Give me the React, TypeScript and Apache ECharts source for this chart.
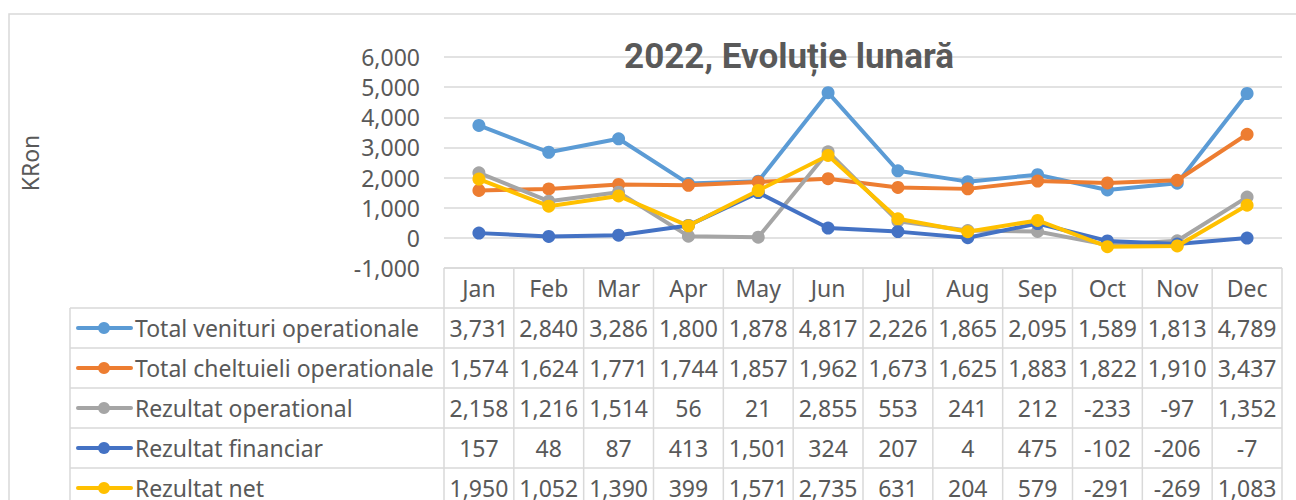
import React, { useEffect, useRef } from "react";
import * as echarts from "echarts";

const months = ["Jan", "Feb", "Mar", "Apr", "May", "Jun", "Jul", "Aug", "Sep", "Oct", "Nov", "Dec"];
const seriesNames = [
  "Total venituri operationale",
  "Total cheltuieli operationale",
  "Rezultat operational",
  "Rezultat financiar",
  "Rezultat net",
];
const venituri = [3731, 2840, 3286, 1800, 1878, 4817, 2226, 1865, 2095, 1589, 1813, 4789];
const cheltuieli = [1574, 1624, 1771, 1744, 1857, 1962, 1673, 1625, 1883, 1822, 1910, 3437];
const rezOperational = [2158, 1216, 1514, 56, 21, 2855, 553, 241, 212, -233, -97, 1352];
const rezFinanciar = [157, 48, 87, 413, 1501, 324, 207, 4, 475, -102, -206, -7];
const rezNet = [1950, 1052, 1390, 399, 1571, 2735, 631, 204, 579, -291, -269, 1083];
const yTicks = { min: -1000, max: 6000, interval: 1000 };

const seriesData = [venituri, cheltuieli, rezOperational, rezFinanciar, rezNet];
const colors = ["#5B9BD5", "#ED7D31", "#A5A5A5", "#4472C4", "#FFC000"];

const FONT = "Noto Sans";
const FS = 23;
const TXT = "#595959";
const LINE = "#d9d9d9";
const GL = 444;
const GR = 1282;
const GT = 57;
const GB = 268;
const ROWH = 40;
const LEGX = 70;

const fmt = (v: number) => v.toLocaleString("en-US");

export default function App() {
  const ref = useRef<HTMLDivElement>(null);
  useEffect(() => {
    document.body.style.margin = "0";
    const chart = echarts.init(ref.current!, undefined, { renderer: "svg" });
    const colW = (GR - GL) / months.length;
    const graphics: any[] = [];
    graphics.push({
      type: "rect",
      shape: { x: 9, y: 14, width: 1300, height: 520 },
      style: { fill: "none", stroke: LINE, lineWidth: 1.5 },
      silent: true,
    });
    graphics.push({
      type: "text",
      x: 789,
      y: 56,
      style: {
        text: "2022, Evoluție lunară",
        font: `bold 35px Roboto`,
        fill: TXT,
        align: "center",
        verticalAlign: "middle",
      },
      z: 10,
    });
    graphics.push({
      type: "text",
      x: 30,
      y: 163,
      rotation: Math.PI / 2,
      style: {
        text: "KRon",
        font: `${FS}px '${FONT}'`,
        fill: TXT,
        align: "center",
        verticalAlign: "middle",
      },
    });
    const nRows = seriesNames.length;
    const tableBottom = 520;
    graphics.push({
      type: "line",
      shape: { x1: GL, y1: GB, x2: GR, y2: GB },
      style: { stroke: LINE, lineWidth: 1.5 },
    });
    for (let r = 0; r <= nRows; r++) {
      const y = GB + ROWH * (r + 1);
      graphics.push({
        type: "line",
        shape: { x1: LEGX, y1: y, x2: GR, y2: y },
        style: { stroke: LINE, lineWidth: 1.5 },
      });
    }
    for (let c = 0; c <= months.length; c++) {
      const x = GL + colW * c;
      graphics.push({
        type: "line",
        shape: { x1: x, y1: GB, x2: x, y2: tableBottom },
        style: { stroke: LINE, lineWidth: 1.5 },
      });
    }
    graphics.push({
      type: "line",
      shape: { x1: LEGX, y1: GB + ROWH, x2: LEGX, y2: tableBottom },
      style: { stroke: LINE, lineWidth: 1.5 },
    });
    seriesNames.forEach((name, r) => {
      const cy = GB + ROWH * (r + 1) + ROWH / 2;
      graphics.push({
        type: "line",
        shape: { x1: 78, y1: cy, x2: 131, y2: cy },
        style: { stroke: colors[r], lineWidth: 4, lineCap: "round" },
      });
      graphics.push({
        type: "circle",
        shape: { cx: 104, cy, r: 6 },
        style: { fill: colors[r] },
      });
      graphics.push({
        type: "text",
        x: 135,
        y: cy,
        style: { text: name, font: `${FS}px '${FONT}'`, fill: TXT, align: "left", verticalAlign: "middle" },
      });
      seriesData[r].forEach((v, c) => {
        graphics.push({
          type: "text",
          x: GL + colW * (c + 0.5),
          y: cy,
          style: { text: fmt(v), font: `${FS}px '${FONT}'`, fill: TXT, align: "center", verticalAlign: "middle" },
        });
      });
    });

    chart.setOption({
      animation: false,
      grid: { left: GL, right: 1296 - GR, top: GT, bottom: 500 - GB, containLabel: false },
      xAxis: {
        type: "category",
        data: months,
        boundaryGap: true,
        axisLine: { show: false },
        axisTick: { show: false },
        axisLabel: { color: TXT, fontFamily: FONT, fontSize: FS, margin: 8 },
      },
      yAxis: {
        type: "value",
        min: yTicks.min,
        max: yTicks.max,
        interval: yTicks.interval,
        axisLine: { show: false },
        axisTick: { show: false },
        splitLine: { lineStyle: { color: LINE, width: 1.5 } },
        axisLabel: {
          color: TXT,
          fontFamily: FONT,
          fontSize: FS,
          margin: 24,
          formatter: (v: number) => fmt(v),
        },
      },
      graphic: graphics,
      series: seriesNames.map((name, i) => ({
        name,
        type: "line",
        data: seriesData[i],
        symbol: "circle",
        symbolSize: 13,
        lineStyle: { color: colors[i], width: 4 },
        itemStyle: { color: colors[i] },
        z: 2 + i,
      })),
    });
    return () => chart.dispose();
  }, []);
  return <div ref={ref} style={{ width: 1296, height: 500 }} />;
}
